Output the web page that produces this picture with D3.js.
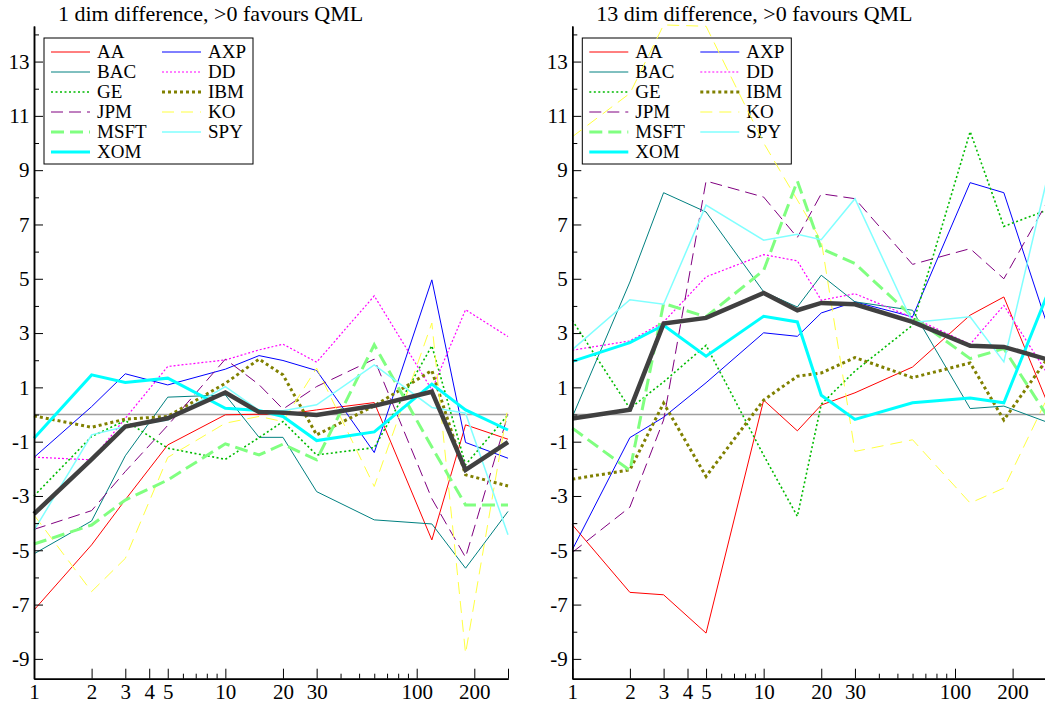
<!DOCTYPE html>
<meta charset="utf-8">
<style>

body {
  margin: 0;
  background: #fff;
}

text {
  font-family: "Liberation Serif", "Times New Roman", serif;
  fill: #000;
}

.title {
  font-size: 22px;
}

.axis text {
  font-size: 21px;
}

.legend text {
  font-size: 19px;
}

.zero {
  stroke: #a0a0a0;
  stroke-width: 1.5px;
}

.series {
  fill: none;
  stroke-linejoin: miter;
}

</style>
<svg width="1045" height="704"></svg>
<script src="https://d3js.org/d3.v7.min.js"></script>
<script>

// horizons on the log x axis
var horizons = [1, 2, 3, 5, 10, 15, 20, 30, 60, 120, 180, 300];

var tickers = ["AA", "AXP", "BAC", "DD", "GE", "IBM", "JPM", "KO", "MSFT", "SPY", "XOM"];

// 1 dim difference, one row per ticker
var dim1 = [
  [-7.2, -4.8, -3.14, -1.12, -0.01, 0.01, 0.0, 0.17, 0.44, -4.62, -0.38, -0.91],
  [-1.58, 0.29, 1.5, 1.09, 1.67, 2.17, 1.99, 1.62, -1.4, 4.96, -1.03, -1.61],
  [-5.13, -3.92, -1.52, 0.64, 0.72, -0.84, -0.84, -2.84, -3.88, -4.03, -5.66, -3.57],
  [-1.57, -1.67, -0.14, 1.77, 2.01, 2.38, 2.59, 1.93, 4.37, 0.91, 3.86, 2.87],
  [-3.0, -0.81, -0.22, -1.24, -1.65, -0.85, -0.26, -1.49, -1.22, 2.53, -1.85, -0.01],
  [-0.05, -0.47, -0.17, -0.07, 1.15, 2.04, 1.46, -0.75, 0.32, 1.62, -2.22, -2.63],
  [-4.23, -3.54, -2.1, -0.4, 2.04, 1.1, 0.2, 1.03, 2.04, -3.1, -5.26, 0.0],
  [-3.7, -6.52, -5.3, -1.58, -0.32, -0.07, -0.26, 1.71, -2.65, 3.37, -8.8, 0.3],
  [-4.77, -4.07, -3.15, -2.41, -1.08, -1.49, -1.09, -1.67, 2.57, -1.2, -3.33, -3.33],
  [-4.27, -0.75, -0.44, -0.2, 1.03, 0.15, 0.14, 0.36, 1.83, 0.26, 0.05, -4.43],
  [-0.87, 1.46, 1.18, 1.34, 0.23, 0.15, -0.07, -0.96, -0.64, 1.12, 0.17, -0.57]
];
var dim1Mean = [-3.66, -1.65, -0.44, -0.14, 0.81, 0.09, 0.07, -0.02, 0.32, 0.84, -2.04, -1.02];

// 13 dim difference
var dim13 = [
  [-4.06, -6.55, -6.64, -8.05, 0.53, -0.6, 0.35, 0.8, 1.75, 3.66, 4.33, 0.53],
  [-4.98, -0.85, -0.1, 1.17, 3.01, 2.88, 3.74, 4.15, 3.6, 8.54, 8.17, 3.41],
  [-0.09, 4.88, 8.17, 7.46, 4.52, 3.96, 5.13, 4.15, 3.84, 0.22, 0.31, -0.27],
  [2.37, 2.71, 3.41, 5.07, 5.89, 5.66, 4.21, 4.45, 3.57, 2.59, 4.02, 1.57],
  [3.47, 0.22, 1.2, 2.55, -1.5, -3.75, 0.38, 1.6, 3.29, 10.42, 6.93, 7.52],
  [-2.38, -2.04, 0.42, -2.28, 0.53, 1.41, 1.53, 2.1, 1.36, 1.9, -0.2, 2.0],
  [-5.08, -3.41, -0.2, 8.6, 8.01, 6.52, 8.13, 7.95, 5.53, 6.11, 5.0, 7.77],
  [10.23, 11.83, 14.35, 14.3, 10.0, 7.9, 6.4, -1.36, -0.93, -3.26, -2.71, 0.54],
  [-0.5, -2.06, 4.09, 3.6, 5.31, 8.6, 6.11, 5.56, 3.6, 2.06, 2.43, 0.0],
  [2.39, 4.23, 4.06, 7.71, 6.42, 6.64, 6.44, 7.95, 3.39, 3.6, 1.94, 8.56],
  [1.96, 2.65, 3.29, 2.15, 3.62, 3.41, 0.71, -0.18, 0.43, 0.61, 0.43, 4.33]
];
var dim13Mean = [-0.15, 0.18, 3.35, 3.56, 4.48, 3.84, 4.11, 4.06, 3.41, 2.53, 2.49, 2.04];

var xMajor = [1, 2, 3, 4, 5, 10, 20, 30, 100, 200, 300],
    xMinor = [6, 7, 8, 9, 40, 50, 60, 70, 80, 90],
    xLabels = [1, 2, 3, 4, 5, 10, 20, 30, 100, 200];
var yMajor = [-9, -7, -5, -3, -1, 1, 3, 5, 7, 9, 11, 13],
    yMinor = [-8, -6, -4, -2, 0, 2, 4, 6, 8, 10, 12, 14];

var styles = [
  {color: "#ff0000", width: 1},
  {color: "#0000ff", width: 1},
  {color: "#008080", width: 1},
  {color: "#ff00ff", width: 1.2, dash: "2,2"},
  {color: "#00bb00", width: 1.6, dash: "2,2.5"},
  {color: "#808000", width: 3, dash: "3,3"},
  {color: "#800080", width: 1, dash: "12,6"},
  {color: "#ffff40", width: 1, dash: "12,7"},
  {color: "#80ff80", width: 3, dash: "13,6"},
  {color: "#80ffff", width: 1.5},
  {color: "#00ffff", width: 3}
];

var svg = d3.select("svg");

var y = d3.scaleLinear()
    .domain([-9.73, 14.31])
    .range([678.7, 26]);

function panel(left, title, values, mean) {
  var x = d3.scaleLog()
      .domain([1, 300])
      .range([left, left + 474]);

  var g = svg.append("g");

  g.append("text")
      .attr("class", "title")
      .attr("x", left + 24)
      .attr("y", 21)
      .text(title);

  g.append("line")
      .attr("class", "zero")
      .attr("x1", x(1))
      .attr("x2", x(300))
      .attr("y1", y(0))
      .attr("y2", y(0));

  // legend box, lines are drawn over it
  var legend = g.append("g").attr("class", "legend");
  legend.append("rect")
      .attr("x", left + 10)
      .attr("y", 38)
      .attr("width", 209)
      .attr("height", 126)
      .attr("fill", "#fff")
      .attr("stroke", "#000")
      .attr("stroke-width", 1);

  var item = legend.selectAll(".item")
    .data(tickers)
    .enter().append("g")
      .attr("class", "item")
      .attr("transform", function(d, i) {
        return "translate(" + (left + 17 + (i % 2) * 111) + "," + (52 + Math.floor(i / 2) * 20) + ")";
      });

  item.append("line")
      .attr("x1", 0)
      .attr("x2", 39)
      .attr("stroke", function(d, i) { return styles[i].color; })
      .attr("stroke-width", function(d, i) { return styles[i].width; })
      .attr("stroke-dasharray", function(d, i) { return styles[i].dash || null; });

  item.append("text")
      .attr("x", 46)
      .attr("dy", "0.33em")
      .text(function(d) { return d; });

  var line = d3.line()
      .x(function(d, i) { return x(horizons[i]); })
      .y(function(d) { return y(d); });

  g.selectAll(".series")
    .data(values)
    .enter().append("path")
      .attr("class", "series")
      .attr("d", line)
      .attr("stroke", function(d, i) { return styles[i].color; })
      .attr("stroke-width", function(d, i) { return styles[i].width; })
      .attr("stroke-dasharray", function(d, i) { return styles[i].dash || null; });

  g.append("path")
      .attr("class", "series")
      .attr("d", line(mean))
      .attr("stroke", "#404040")
      .attr("stroke-width", 4.5);

  // axes: minor ticks first, then labelled major ticks
  var bottom = g.append("g").attr("class", "axis").attr("transform", "translate(0," + y.range()[0] + ")");
  bottom.append("g")
      .call(d3.axisBottom(x).tickValues(xMinor).tickSize(-5).tickSizeOuter(0).tickFormat(""));
  bottom.append("g")
      .call(d3.axisBottom(x).tickValues(xMajor).tickSize(-10).tickSizeOuter(0).tickPadding(5.5)
        .tickFormat(function(d) { return xLabels.indexOf(d) >= 0 ? String(d) : ""; }));

  var leftAxis = g.append("g").attr("class", "axis").attr("transform", "translate(" + left + ",0)");
  leftAxis.append("g")
      .call(d3.axisLeft(y).tickValues(yMinor).tickSize(-5).tickSizeOuter(0).tickFormat(""));
  leftAxis.append("g")
      .call(d3.axisLeft(y).tickValues(yMajor).tickSize(-9).tickSizeOuter(0).tickPadding(4.5)
        .tickFormat(function(d) { return String(d); }));

  g.selectAll(".axis .domain").attr("stroke-width", 1.5);
  g.selectAll(".axis text").attr("fill", "#000");
}

panel(34, "1 dim difference, >0 favours QML", dim1, dim1Mean);
panel(572.3, "13 dim difference, >0 favours QML", dim13, dim13Mean);

</script>
